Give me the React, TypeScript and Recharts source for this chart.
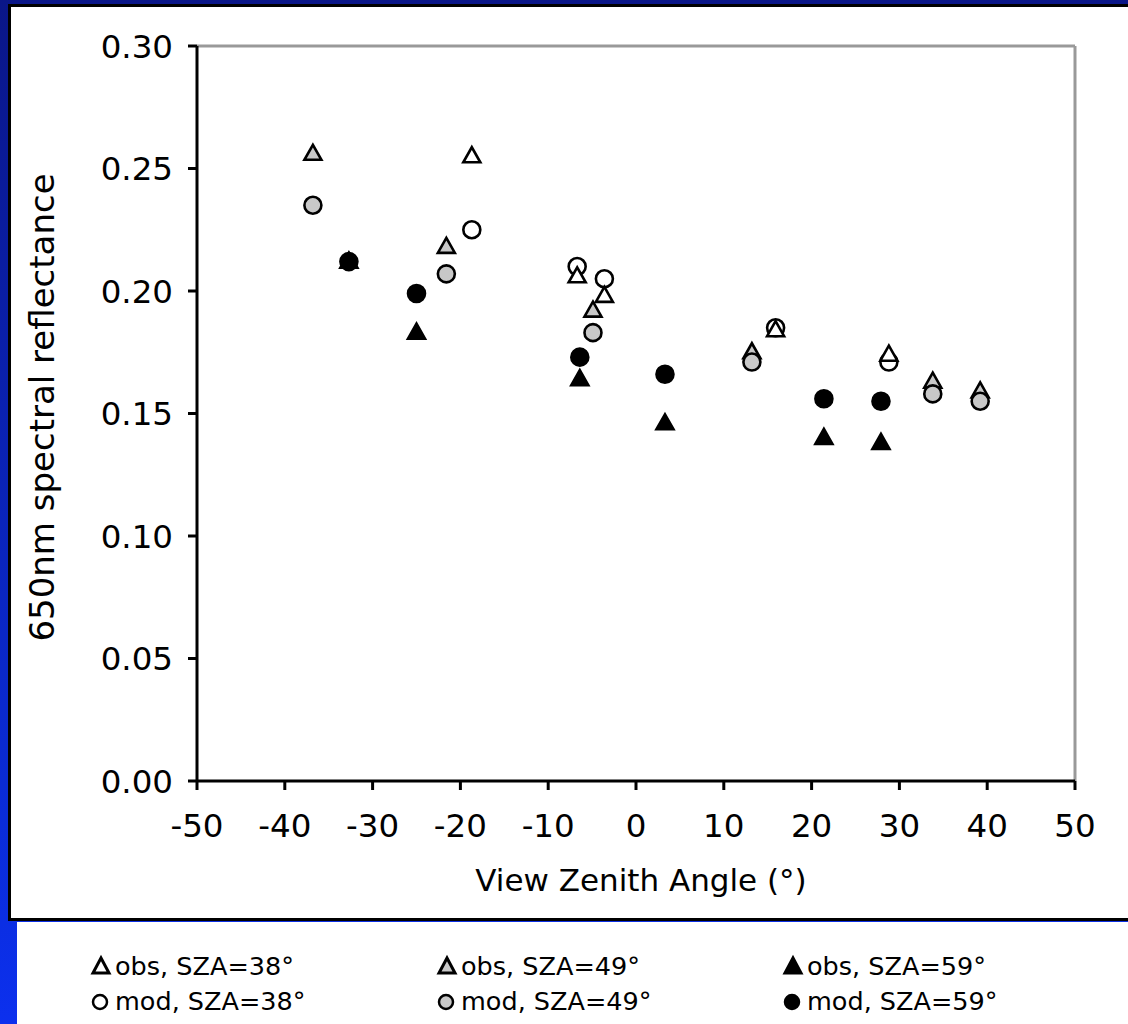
import { ReferenceLine, Scatter, ScatterChart, XAxis, YAxis } from "recharts";

const font = "'DejaVu Sans', Verdana, sans-serif";

const xTicks = [-50, -40, -30, -20, -10, 0, 10, 20, 30, 40, 50];
const yTicks = [0, 0.05, 0.1, 0.15, 0.2, 0.25, 0.3];

// view zenith angles and reflectances per solar zenith angle
const vza38 = [-18.7, -6.7, -3.6, 15.9, 28.8];
const obs38 = [0.255, 0.206, 0.198, 0.184, 0.174];
const mod38 = [0.225, 0.21, 0.205, 0.185, 0.171];

const vza49 = [-36.8, -21.6, -4.9, 13.2, 33.8, 39.2];
const obs49 = [0.256, 0.218, 0.192, 0.175, 0.163, 0.159];
const mod49 = [0.235, 0.207, 0.183, 0.171, 0.158, 0.155];

const vza59 = [-32.7, -25.0, -6.4, 3.3, 21.4, 27.9];
const obs59 = [0.212, 0.183, 0.164, 0.146, 0.14, 0.138];
const mod59 = [0.212, 0.199, 0.173, 0.166, 0.156, 0.155];

const zip = (xs: number[], ys: number[]) => xs.map((x, i) => ({ x, y: ys[i] }));

const triangle = (fill: string) => (p: any) => {
  const { cx, cy } = p;
  return (
    <polygon
      points={`${cx},${cy - 9} ${cx - 8.5},${cy + 6} ${cx + 8.5},${cy + 6}`}
      fill={fill}
      stroke="#000"
      strokeWidth={2.6}
    />
  );
};

const circle = (fill: string) => (p: any) => (
  <circle cx={p.cx} cy={p.cy} r={8.5} fill={fill} stroke="#000" strokeWidth={2.6} />
);

const GRAY = "#c8c8c8";

const legendItems = [
  { label: "obs, SZA=38°", kind: "tri", fill: "#fff" },
  { label: "obs, SZA=49°", kind: "tri", fill: GRAY },
  { label: "obs, SZA=59°", kind: "tri", fill: "#000" },
  { label: "mod, SZA=38°", kind: "circ", fill: "#fff" },
  { label: "mod, SZA=49°", kind: "circ", fill: GRAY },
  { label: "mod, SZA=59°", kind: "circ", fill: "#000" },
];

function LegendMark({ kind, fill }: { kind: string; fill: string }) {
  return (
    <svg width={24} height={24} style={{ marginRight: 2 }}>
      {kind === "tri" ? (
        <polygon points="12,4 4,19 20,19" fill={fill} stroke="#000" strokeWidth={3} />
      ) : (
        <circle cx={11} cy={13} r={7} fill={fill} stroke="#000" strokeWidth={2.5} />
      )}
    </svg>
  );
}

export default function App() {
  return (
    <div
      style={{
        position: "absolute",
        left: 0,
        top: 0,
        width: 1128,
        height: 1024,
        overflow: "hidden",
        background: "linear-gradient(#0a1688, #0a2cd8 80%, #0c30ee)",
        fontFamily: font,
      }}
    >
      <div
        style={{
          position: "absolute",
          left: 8,
          top: 4,
          width: 1140,
          height: 911,
          background: "#fff",
          border: "3px solid #000",
        }}
      />
      <div
        style={{ position: "absolute", left: 17, top: 922, width: 1111, height: 102, background: "#fff" }}
      >
        <div
          style={{
            display: "grid",
            gridTemplateColumns: "346px 346px 346px",
            marginLeft: 72,
            marginTop: 26,
            fontSize: 25.5,
            color: "#000",
          }}
        >
          {legendItems.map((it) => (
            <div key={it.label} style={{ display: "flex", alignItems: "center", height: 35 }}>
              <LegendMark kind={it.kind} fill={it.fill} />
              <span>{it.label}</span>
            </div>
          ))}
        </div>
      </div>
      <div style={{ position: "absolute", left: 0, top: 0 }}>
        <ScatterChart width={1128} height={920} margin={{ top: 46, right: 53, bottom: 39, left: 47 }}>
          <XAxis
            type="number"
            dataKey="x"
            domain={[-50, 50]}
            ticks={xTicks}
            height={100}
            tick={{ fill: "#000", fontSize: 32.5, fontFamily: font }}
            tickSize={9}
            tickMargin={24}
            axisLine={{ stroke: "#000", strokeWidth: 3 }}
            tickLine={{ stroke: "#000", strokeWidth: 3 }}
            label={{
              content: (props: any) => {
                const vb = props.viewBox;
                return (
                  <text x={vb.x + vb.width / 2 + 5} y={891} textAnchor="middle" fontSize={31} fontFamily={font} fill="#000">
                    View Zenith Angle (°)
                  </text>
                );
              },
            }}
          />
          <YAxis
            type="number"
            dataKey="y"
            domain={[0, 0.3]}
            ticks={yTicks}
            width={150}
            tickFormatter={(v: number) => v.toFixed(2)}
            tick={{ fill: "#000", fontSize: 32.5, fontFamily: font }}
            tickSize={9}
            tickMargin={15}
            axisLine={{ stroke: "#000", strokeWidth: 3 }}
            tickLine={{ stroke: "#000", strokeWidth: 3 }}
            label={{
              content: (props: any) => {
                const vb = props.viewBox;
                const cy = vb.y + vb.height / 2 - 6;
                return (
                  <text
                    x={54}
                    y={cy}
                    transform={`rotate(-90, 54, ${cy})`}
                    textAnchor="middle"
                    fontSize={34}
                    fontFamily={font}
                    fill="#000"
                  >
                    650nm spectral reflectance
                  </text>
                );
              },
            }}
          />
          <ReferenceLine y={0.3} stroke="#999" strokeWidth={3} />
          <ReferenceLine x={50} stroke="#999" strokeWidth={3} />
          <Scatter data={zip(vza38, mod38)} shape={circle("#fff")} isAnimationActive={false} />
          <Scatter data={zip(vza38, obs38)} shape={triangle("#fff")} isAnimationActive={false} />
          <Scatter data={zip(vza49, obs49)} shape={triangle(GRAY)} isAnimationActive={false} />
          <Scatter data={zip(vza49, mod49)} shape={circle(GRAY)} isAnimationActive={false} />
          <Scatter data={zip(vza59, obs59)} shape={triangle("#000")} isAnimationActive={false} />
          <Scatter data={zip(vza59, mod59)} shape={circle("#000")} isAnimationActive={false} />
        </ScatterChart>
      </div>
    </div>
  );
}
